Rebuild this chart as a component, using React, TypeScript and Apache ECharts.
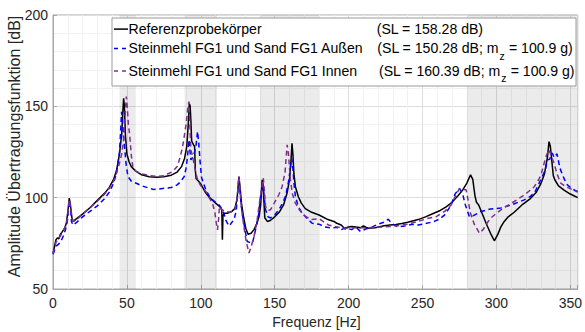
import React, { useEffect, useRef } from "react";
import * as echarts from "echarts";

// ---- data ----
const FREQ_REF = [0, 1, 2, 3, 4, 5, 6, 8, 9, 10, 11, 11.8, 12.8, 13.7, 16, 20, 25, 30, 35, 38, 41, 43, 45, 46.5, 47.3, 47.8, 48.3, 49, 50, 51.5, 53, 56, 60, 65, 70, 75, 80, 84, 87, 89, 90.5, 91.5, 92.2, 92.8, 93.3, 93.8, 95, 95.8, 96.3, 96.8, 98.5, 100, 103, 106, 110, 113, 114.2, 114.6, 115, 115.8, 118, 121, 123, 124.5, 125.8, 126.5, 127.5, 129, 130.5, 132, 134, 136, 138, 139.5, 140.5, 141.5, 142.3, 143.3, 145, 147, 150, 153, 156, 158.5, 160, 161, 161.7, 162.3, 163, 164, 166, 168, 170.7, 175, 180, 186, 190, 192, 195, 197.5, 199, 202, 205, 208, 210, 213, 218, 224, 228, 232, 236, 240, 247, 252, 258, 262, 266, 270, 274, 277, 280, 282.5, 284, 285.5, 286.5, 288, 290.7, 293, 296, 298.6, 301, 303, 305.3, 308, 312, 318, 323, 327, 330, 332.5, 334.5, 335.6, 336.5, 337.5, 338.5, 339.5, 342, 346, 350, 355];
const AMP_REF = [69.5, 73, 77, 78, 77.5, 80, 81, 83.5, 86, 92, 99.8, 96, 89, 87, 88.5, 91, 94.5, 98.5, 102.5, 105.5, 110, 115, 124, 135, 148, 154.4, 150, 134, 124, 119.5, 117, 114.5, 112.5, 111.5, 111.2, 111.5, 112.3, 114, 117, 121.5, 128, 140, 151.5, 150, 142, 131, 129, 128, 115, 110.5, 109, 107.5, 103, 100, 97, 95, 93.5, 77, 90, 91.5, 91.5, 92.5, 94, 99, 111.6, 106, 97, 89, 83, 80, 80.5, 82.5, 86, 90, 96, 109.8, 104, 89, 87, 87.5, 89.5, 92, 96, 103, 110, 120, 129.8, 124, 113, 106, 100.5, 97, 94, 92, 90.5, 88, 87, 86, 85, 82.8, 83.8, 84.2, 84, 83.5, 84.5, 83.3, 83.5, 84.6, 85, 85.3, 85.8, 86.5, 88, 89.5, 91.6, 93, 95, 97.5, 101, 104, 108, 112.5, 110, 101, 97.5, 96, 90.6, 86, 80.5, 76.4, 80, 84, 87, 89.5, 92, 96.5, 99.5, 103, 107.5, 113, 122, 130.7, 128, 120, 112, 109.8, 106.5, 104, 102, 100];

const FREQ_OUT = [0, 1, 2, 3, 5, 7, 9, 10, 11, 11.8, 12.5, 13.5, 16, 20, 25, 30, 35, 38.5, 41, 43, 45, 46, 46.4, 47, 47.8, 48.5, 49.5, 50.7, 53, 56, 60, 64, 68, 72, 76, 80, 84, 86, 88.8, 90, 91, 92, 92.6, 93.3, 94.5, 95.6, 96.7, 97.8, 98.6, 99.5, 100.5, 103.4, 106, 108, 110, 112.4, 114.6, 116, 116.8, 118, 119.5, 120.5, 122.5, 124, 125.2, 125.8, 126.5, 127.3, 128.5, 130, 131.4, 133, 134.9, 135.8, 137, 139, 140.4, 142, 142.8, 143.8, 145.5, 147.2, 150, 152.8, 155, 157.3, 159.6, 160.5, 161.5, 162.3, 163, 164, 166, 168.5, 172, 175.3, 180, 184, 188.6, 192, 195, 198, 202, 205, 208, 212, 216, 220, 224, 226.8, 229, 233.4, 238, 243, 247, 252, 258, 262, 265, 268, 270, 272, 275, 277, 279, 281.7, 284, 289.6, 296, 303, 310, 318.8, 323, 326, 330, 333, 334.5, 336, 337.8, 339, 341, 342.5, 343.4, 346, 348, 351, 355];
const AMP_OUT = [69, 71, 73.5, 74, 75.5, 79, 84, 89, 98.5, 94, 87, 85, 86.5, 89.5, 92.5, 95.5, 99.5, 103.5, 108, 113.5, 125, 140, 147, 143, 132, 127, 118, 111.6, 109, 108, 106.5, 105.5, 104.5, 104.8, 105.2, 105.5, 107, 108.5, 111.6, 116, 122.5, 131.7, 126, 120.7, 122, 124.4, 128, 136.2, 130, 120, 111, 104.3, 100.5, 98.8, 97.5, 96, 93.4, 90.5, 87.9, 86, 84.5, 86, 88, 93, 104, 110.7, 104, 96, 89, 82, 76, 75.5, 75.1, 78, 82.4, 90, 100.7, 108, 101, 93.4, 89.5, 88.9, 90.5, 93.4, 96.5, 100.7, 109.8, 116, 121.5, 116, 108, 100.7, 95, 91.6, 88.5, 86, 85.5, 84, 83.3, 83.8, 82.5, 83.5, 82.5, 83.8, 81.5, 83, 84, 85.5, 86.5, 88.2, 86, 84, 84.5, 85.5, 85, 85.8, 87, 88.5, 90.6, 94.3, 97.5, 102, 105, 102.5, 96, 89.7, 90, 92.4, 93.8, 94.3, 96, 98.8, 100.7, 103, 109.8, 115, 120.7, 121, 124.4, 122, 124, 118, 115.2, 110, 107, 105, 103];

const FREQ_IN = [0, 1, 2, 3, 5, 7, 9, 10, 11, 11.8, 12.8, 13.7, 16, 20, 25, 30, 35, 38, 41, 43, 45, 46.5, 48, 49, 49.6, 50.3, 51, 51.8, 53, 54, 56, 60, 63, 66, 70, 75, 81, 84, 85.5, 87.5, 88.8, 90, 91.2, 92, 92.7, 93.3, 94.5, 96, 97.8, 100, 103.4, 106, 107.9, 109.5, 110.5, 111.3, 112, 112.6, 114, 116.8, 120, 123, 124.5, 125.8, 126.5, 127.5, 129, 130.5, 131.5, 132.6, 134, 136, 138, 139.3, 141, 142.3, 143, 143.8, 145.5, 147.2, 150, 152.8, 155, 157, 158.4, 159.3, 160.6, 162, 164, 167, 170.7, 175, 180, 186.4, 192, 197.6, 205, 212, 218, 224.6, 232, 240, 247, 253, 259, 265, 269.4, 272, 275, 277.5, 279.5, 281, 282.4, 285, 288.5, 291, 294, 296.3, 300, 305, 312.1, 318, 322, 325.6, 328, 330, 332.3, 334, 335.6, 337, 339, 341, 343.5, 347, 351, 355];
const AMP_IN = [69.5, 72, 75.5, 77, 79, 82, 85, 91, 99, 95, 88.5, 87, 88, 91, 94.5, 98, 102, 105, 109, 113.5, 119, 124, 133, 148, 155.3, 149, 140, 135, 123, 117, 114.5, 113, 112.5, 112, 111.6, 112, 114.3, 117, 120.7, 127, 133.5, 140, 149, 152.6, 138, 126, 122.5, 116, 109.8, 106.5, 103.4, 99.5, 97, 92, 86, 82.4, 88, 95.2, 93.5, 92.4, 92, 93, 99, 111.6, 104, 94, 85, 77, 73.3, 69.7, 73, 78.8, 87, 95.2, 104, 110.7, 104, 95.2, 93, 93.4, 97.5, 101.6, 106, 114, 128.9, 124, 109.8, 102, 97, 93, 89.7, 88, 88.5, 85, 84, 83.3, 83.5, 83.5, 83.8, 84, 84.5, 85.5, 87, 88.5, 89.5, 92.5, 96, 100.5, 105, 104.5, 104.3, 98, 91.6, 85.5, 80.6, 82.5, 86.5, 88.9, 91.5, 94.5, 97.9, 101, 103.5, 106, 109, 112, 118.9, 123.5, 126.2, 123, 118.9, 113, 108, 106, 104.5, 103.5];

const BANDS = [[45, 56], [89, 111], [140, 180], [280, 355]];

const SERIES_NAMES = [
  "Referenzprobekörper",
  "Steinmehl FG1 und Sand FG1 Außen",
  "Steinmehl FG1 und Sand FG1 Innen",
];
const SL_TEXT = ["(SL = 158.28 dB)", "(SL = 150.28 dB; m", "(SL = 160.39 dB; m"];
const MZ_TEXT = ["", " = 100.9 g)", " = 100.9 g)"];
const X_TITLE = "Frequenz [Hz]";
const Y_TITLE = "Amplitude Übertragungsfunktion [dB]";

const X_MAX = 355;
const FONT = "Liberation Sans";
const COLORS = ["#000000", "#0000ff", "#7e2f8e"];

function zip(xs: number[], ys: number[]) {
  return xs.map((x, i) => [x, ys[i]]);
}

function measure(text: string, size: number) {
  const c = document.createElement("canvas").getContext("2d");
  if (!c) return text.length * size * 0.5;
  c.font = `${size}px "Liberation Sans"`;
  return c.measureText(text).width;
}

export default function App() {
  const ref = useRef<HTMLDivElement>(null);

  useEffect(() => {
    if (!ref.current) return;
    const chart = echarts.init(ref.current, undefined, { renderer: "svg" });

    const FS = 15.5; // legend font size
    const SX = 0.91; // horizontal squeeze of the reference picture
    const txt = (text: string, x: number, y: number, size: number, extra: any = {}) => ({
      type: "text",
      x,
      y,
      scaleX: SX,
      style: {
        text,
        fontSize: size,
        fontFamily: FONT,
        fill: "#000",
        verticalAlign: "middle",
        align: "left",
      },
      z: 101,
      ...extra,
    });

    const lx = 112, ly = 18, lw = 464, lh = 68;
    const rowsY = [28.6, 47.9, 70.6];
    const slX = [376.7, 377.3, 379];
    const els: any[] = [
      {
        type: "rect",
        shape: { x: lx, y: ly, width: lw, height: lh },
        style: { fill: "#ffffff", stroke: "#9a9a9a", lineWidth: 1 },
        z: 100,
      },
    ];
    rowsY.forEach((y, i) => {
      els.push({
        type: "line",
        shape: { x1: 114, y1: y + 0.5, x2: 128, y2: y + 0.5 },
        style: { stroke: COLORS[i], lineWidth: 1.5, lineDash: i === 0 ? null : [4, 4] },
        z: 101,
      });
      els.push(txt(SERIES_NAMES[i], 128.5, y, FS));
      els.push(txt(SL_TEXT[i], slX[i], y, FS));
      if (MZ_TEXT[i]) {
        const w1 = measure(SL_TEXT[i], FS) * SX;
        const wz = measure("z", 11.5) * SX;
        els.push(txt("z", slX[i] + w1 + 0.3, y + 7.6, 11.5));
        els.push(txt(MZ_TEXT[i], slX[i] + w1 + wz + 0.6, y, FS));
      }
    });
    // axis titles
    els.push({
      type: "text",
      x: 316.5,
      y: 321.3,
      scaleX: SX,
      style: { text: X_TITLE, fontSize: 15.5, fontFamily: FONT, fill: "#262626", align: "center", verticalAlign: "middle" },
      z: 50,
    });
    els.push({
      type: "text",
      x: 14.4,
      y: 146.5,
      rotation: Math.PI / 2,
      style: { text: Y_TITLE, fontSize: 16, fontFamily: FONT, fill: "#262626", align: "center", verticalAlign: "middle" },
      z: 50,
    });

    const lineSeries = (name: string, data: number[][], color: string, dashed: boolean) => ({
      name,
      type: "line",
      data,
      showSymbol: false,
      symbol: "none",
      clip: true,
      lineStyle: { color, width: 1.5, type: dashed ? [5, 3.5] : "solid" },
      z: 3,
    });

    chart.setOption({
      animation: false,
      backgroundColor: "#ffffff",
      textStyle: { fontFamily: FONT },
      grid: {
        left: 53,
        right: 5,
        top: 15,
        bottom: 43,
        show: true,
        borderColor: "#a6a6a6",
        borderWidth: 1,
        backgroundColor: "transparent",
      },
      xAxis: {
        type: "value",
        min: 0,
        max: X_MAX,
        interval: 50,
        axisLine: { show: true, lineStyle: { color: "#a6a6a6", width: 1 } },
        axisTick: { show: true, inside: true, length: 4, lineStyle: { color: "#a6a6a6" } },
        axisLabel: {
          fontSize: 14,
          color: "#262626",
          fontFamily: FONT,
          margin: 7,
          formatter: (v: number) => (v % 50 === 0 ? String(v) : ""),
        },
        splitLine: { show: true, lineStyle: { color: "#dedede", width: 1 } },
        minorTick: { show: false, splitNumber: 5 },
        minorSplitLine: { show: true, lineStyle: { color: "#f1f1f1", width: 1 } },
      },
      yAxis: {
        type: "value",
        min: 50,
        max: 200,
        interval: 50,
        axisLine: { show: true, lineStyle: { color: "#a6a6a6", width: 1 } },
        axisTick: { show: true, inside: true, length: 4, lineStyle: { color: "#a6a6a6" } },
        axisLabel: { fontSize: 14, color: "#262626", fontFamily: FONT, margin: 5 },
        splitLine: { show: true, lineStyle: { color: "#dedede", width: 1 } },
        minorTick: { show: false, splitNumber: 5 },
        minorSplitLine: { show: true, lineStyle: { color: "#f1f1f1", width: 1 } },
      },
      series: [
        {
          name: "bands",
          type: "line",
          data: [],
          silent: true,
          z: 1,
          markArea: {
            silent: true,
            itemStyle: { color: "rgba(0,0,0,0.08)" },
            data: BANDS.map(([a, b]) => [{ xAxis: a }, { xAxis: b }]),
          },
        },
        lineSeries(SERIES_NAMES[0], zip(FREQ_REF, AMP_REF), COLORS[0], false),
        lineSeries(SERIES_NAMES[1], zip(FREQ_OUT, AMP_OUT), COLORS[1], true),
        lineSeries(SERIES_NAMES[2], zip(FREQ_IN, AMP_IN), COLORS[2], true),
      ],
      graphic: els,
    });

    return () => chart.dispose();
  }, []);

  return (
    <div
      ref={ref}
      style={{ position: "fixed", left: 0, top: 0, width: 585, height: 332, background: "#fff" }}
    />
  );
}
